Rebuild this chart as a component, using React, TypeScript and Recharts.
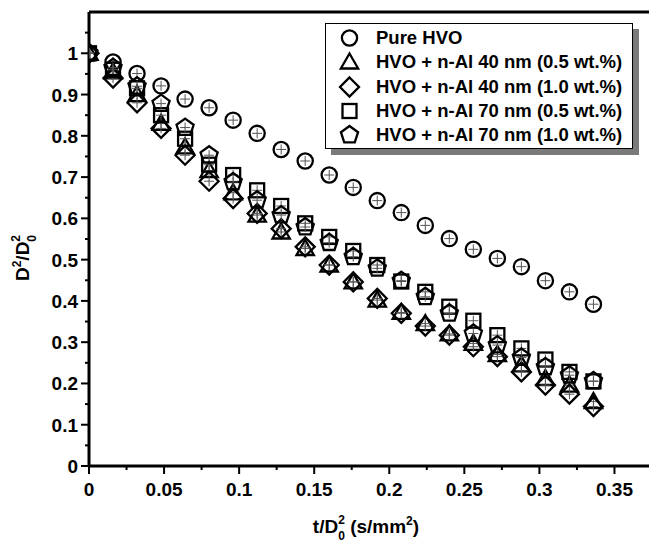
import React from "react";
import {
  ReferenceLine,
  Scatter,
  ScatterChart,
  XAxis,
  YAxis,
} from "recharts";

// time axis, t/D0^2 (s/mm^2)
const time = [
  0, 0.016, 0.032, 0.048, 0.064, 0.08, 0.096, 0.112, 0.128, 0.144, 0.16,
  0.176, 0.192, 0.208, 0.224, 0.24, 0.256, 0.272, 0.288, 0.304, 0.32, 0.336,
];

const pureHVO = [
  1.0, 0.979, 0.951, 0.921, 0.889, 0.868, 0.838, 0.806, 0.767, 0.739, 0.705,
  0.675, 0.643, 0.614, 0.583, 0.551, 0.525, 0.503, 0.483, 0.449, 0.422, 0.392,
];
const al40Half = [
  1.0, 0.955, 0.9, 0.83, 0.773, 0.716, 0.662, 0.608, 0.567, 0.527, 0.487,
  0.446, 0.402, 0.372, 0.345, 0.32, 0.297, 0.27, 0.245, 0.212, 0.196, 0.156,
];
const al40One = [
  1.0, 0.94, 0.88, 0.818, 0.753, 0.69, 0.648, 0.612, 0.575, 0.531, 0.487,
  0.446, 0.406, 0.37, 0.339, 0.317, 0.289, 0.265, 0.228, 0.196, 0.174, 0.144,
];
const al70Half = [
  1.0, 0.96, 0.915, 0.85, 0.793, 0.73, 0.705, 0.668, 0.63, 0.588, 0.555,
  0.521, 0.487, 0.447, 0.422, 0.386, 0.352, 0.317, 0.285, 0.258, 0.228, 0.205,
];
const al70One = [
  1.0, 0.965, 0.92, 0.878, 0.82, 0.753, 0.688, 0.644, 0.608, 0.579, 0.541,
  0.507, 0.479, 0.449, 0.41, 0.37, 0.321, 0.293, 0.263, 0.24, 0.22, 0.206,
];

const seriesNames = [
  "Pure HVO",
  "HVO + n-Al 40 nm (0.5 wt.%)",
  "HVO + n-Al 40 nm (1.0 wt.%)",
  "HVO + n-Al 70 nm (0.5 wt.%)",
  "HVO + n-Al 70 nm (1.0 wt.%)",
];
const seriesShapes = ["circle", "triangle", "diamond", "square", "pentagon"];
const seriesValues = [pureHVO, al40Half, al40One, al70Half, al70One];

const xMajor = [0, 0.05, 0.1, 0.15, 0.2, 0.25, 0.3, 0.35];
const xMinor = [0.025, 0.075, 0.125, 0.175, 0.225, 0.275, 0.325];
const yMajor = [0, 0.1, 0.2, 0.3, 0.4, 0.5, 0.6, 0.7, 0.8, 0.9, 1];
const yMinor = [0.05, 0.15, 0.25, 0.35, 0.45, 0.55, 0.65, 0.75, 0.85, 0.95, 1.05];

const FONT = "'Liberation Sans', Arial, sans-serif";

function polygon(cx: number, cy: number, r: number, n: number) {
  const pts: string[] = [];
  for (let i = 0; i < n; i++) {
    const a = -Math.PI / 2 + (i * 2 * Math.PI) / n;
    pts.push(`${cx + r * Math.cos(a)},${cy + r * Math.sin(a)}`);
  }
  return pts.join(" ");
}

function Symbol({ kind, cx, cy, cross = true }: any) {
  const s = { fill: "none", stroke: "#000", strokeWidth: 2.3 };
  let body;
  if (kind === "circle") body = <circle cx={cx} cy={cy} r={7.6} {...s} />;
  else if (kind === "square")
    body = <rect x={cx - 7} y={cy - 7} width={14} height={14} {...s} />;
  else if (kind === "diamond")
    body = (
      <polygon
        points={`${cx},${cy - 9.5} ${cx + 9.5},${cy} ${cx},${cy + 9.5} ${cx - 9.5},${cy}`}
        {...s}
      />
    );
  else if (kind === "triangle")
    body = <polygon points={polygon(cx, cy + 1.5, 10, 3)} {...s} />;
  else body = <polygon points={polygon(cx, cy, 9, 5)} {...s} />;
  return (
    <g>
      {body}
      {cross && (
        <g stroke="#555" strokeWidth={1}>
          <line x1={cx - 5} x2={cx + 5} y1={cy} y2={cy} />
          <line x1={cx} x2={cx} y1={cy - 5} y2={cy + 5} />
        </g>
      )}
    </g>
  );
}

function XTick({ x, y, payload }: any) {
  const major = xMajor.includes(payload.value);
  return (
    <g>
      <line x1={x} x2={x} y1={y} y2={y + (major ? 8 : 4)} stroke="#000" strokeWidth={2} />
      {major && (
        <text x={x} y={y + 30} textAnchor="middle" fontFamily={FONT} fontWeight="bold" fontSize={19} fill="#000">
          {String(payload.value)}
        </text>
      )}
    </g>
  );
}

function YTick({ x, y, payload }: any) {
  const major = yMajor.includes(payload.value);
  return (
    <g>
      <line x1={x - (major ? 8 : 4)} x2={x} y1={y} y2={y} stroke="#000" strokeWidth={2} />
      {major && (
        <text x={x - 11} y={y + 7} textAnchor="end" fontFamily={FONT} fontWeight="bold" fontSize={19} fill="#000">
          {String(payload.value)}
        </text>
      )}
    </g>
  );
}

function XTitle() {
  return (
    <text x={366} y={533} textAnchor="middle" fontFamily={FONT} fontWeight="bold" fontSize={19} fill="#000">
      t/D
      <tspan fontSize={12} dy={7}>0</tspan>
      <tspan fontSize={12} dx={-6.7} dy={-16}>2</tspan>
      <tspan dy={9}> (s/mm</tspan>
      <tspan fontSize={12} dy={-8}>2</tspan>
      <tspan dy={8}>)</tspan>
    </text>
  );
}

function YTitle() {
  return (
    <text
      x={0}
      y={0}
      transform="translate(29 258) rotate(-90)"
      textAnchor="middle"
      fontFamily={FONT}
      fontWeight="bold"
      fontSize={19}
      fill="#000"
    >
      D
      <tspan fontSize={12} dy={-8}>2</tspan>
      <tspan dy={8}>/D</tspan>
      <tspan fontSize={12} dy={7}>0</tspan>
      <tspan fontSize={12} dx={-6.7} dy={-16}>2</tspan>
    </text>
  );
}

function LegendBox() {
  return (
    <div
      style={{
        position: "absolute",
        left: 325,
        top: 23,
        width: 306,
        height: 122,
        border: "1.5px solid #000",
        background: "#fff",
        boxShadow: "6px 6px 0 #7a7a7a",
        paddingTop: 2,
        fontFamily: FONT,
        fontWeight: "bold",
        fontSize: 18.5,
        color: "#000",
      }}
    >
      {seriesNames.map((name, i) => (
        <div key={name} style={{ height: 24.3, display: "flex", alignItems: "center" }}>
          <svg width={50} height={24} style={{ flex: "none" }}>
            <Symbol kind={seriesShapes[i]} cx={23.5} cy={12} cross={false} />
          </svg>
          <span style={{ whiteSpace: "nowrap" }}>{name}</span>
        </div>
      ))}
    </div>
  );
}

export default function App() {
  const ticksX = [...xMajor, ...xMinor].sort((a, b) => a - b);
  const ticksY = [...yMajor, ...yMinor].sort((a, b) => a - b);
  return (
    <div style={{ position: "absolute", left: 0, top: 0, width: 649, height: 542, background: "#fff" }}>
      <ScatterChart width={649} height={542} margin={{ top: 12, right: 0, bottom: 0, left: 0 }}>
        <XAxis
          type="number"
          dataKey="x"
          domain={[0, 0.373]}
          ticks={ticksX}
          interval={0}
          tickSize={0}
          tickMargin={0}
          tick={<XTick />}
          height={76}
          axisLine={{ stroke: "#000", strokeWidth: 3 }}
          allowDataOverflow
          label={<XTitle />}
        />
        <YAxis
          type="number"
          dataKey="y"
          domain={[0, 1.1]}
          ticks={ticksY}
          interval={0}
          tickSize={0}
          tickMargin={0}
          tick={<YTick />}
          width={89}
          axisLine={{ stroke: "#000", strokeWidth: 3 }}
          allowDataOverflow
          label={<YTitle />}
        />
        <ReferenceLine y={1.1} stroke="#000" strokeWidth={3} />
        {seriesValues.map((vals, si) => (
          <Scatter
            key={seriesNames[si]}
            name={seriesNames[si]}
            data={vals.map((v, i) => ({ x: time[i], y: v }))}
            isAnimationActive={false}
            shape={(p: any) => <Symbol kind={seriesShapes[si]} cx={p.cx} cy={p.cy} />}
          />
        ))}
      </ScatterChart>
      <LegendBox />
    </div>
  );
}
